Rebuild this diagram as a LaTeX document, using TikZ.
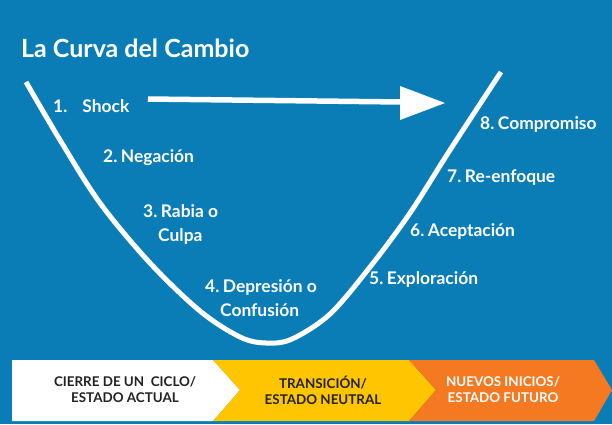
\documentclass[tikz,border=0pt]{standalone}
\usepackage{fontspec}
\setmainfont{Lato}
\definecolor{bgblue}{HTML}{0A7DB7}
\definecolor{byellow}{HTML}{FFC600}
\definecolor{borange}{HTML}{F47920}
\definecolor{darktext}{HTML}{222222}
\begin{document}
\begin{tikzpicture}[x=1pt,y=-1pt,
  lbl/.style={text=white,font=\fontsize{17.4}{20}\selectfont\bfseries,anchor=base west,inner sep=0pt},
  bandtxt/.style={font=\fontsize{13.4}{16}\selectfont\bfseries,align=center,inner sep=0pt}]
\fill[bgblue] (0,0) rectangle (612,424);
\useasboundingbox (0,0) rectangle (612,424);
\node[text=white,font=\fontsize{25}{30}\selectfont\bfseries,anchor=base west,inner sep=0pt] (title) at (21,57) {La Curva del Cambio};
% curve
\draw[white,line width=5pt,line cap=butt] plot[smooth,tension=0.55] coordinates {(26,82) (60,140) (100,203) (150,263) (200,311) (240,337) (266,343) (292,339) (330,314) (370,267) (410,213) (450,150) (501,72)};
% arrow
\coordinate (as) at (148,99);
\coordinate (ae) at (445,103);
\draw[white,line width=5.5pt] (as) -- (402,102);
\fill[white] (400,86) -- (ae) -- (400,120) -- cycle;
% labels
\node[lbl] (l1) at (53,112) {1.\hspace{15pt}Shock};
\node[lbl] (l2) at (103,162) {2.\hspace{0.2em}Negación};
\node[lbl] (l3) at (143,217) {3.\hspace{0.2em}Rabia o};
\node[lbl] (l3b) at (158,241) {Culpa};
\node[lbl] (l4) at (205,292) {4.\hspace{0.2em}Depresión o};
\node[lbl] (l4b) at (220,316) {Confusión};
\node[lbl] (l5) at (369,284) {5.\hspace{0.2em}Exploración};
\node[lbl] (l6) at (410,236) {6.\hspace{0.2em}Aceptación};
\node[lbl] (l7) at (447,182) {7.\hspace{0.2em}Re-enfoque};
\node[lbl] (l8) at (480,129) {8.\hspace{0.2em}Compromiso};
% band
\fill[white] (12,360) -- (213,360) -- (240,390) -- (213,421) -- (12,421) -- cycle;
\fill[byellow] (213,360) -- (409,360) -- (436,390) -- (409,421) -- (213,421) -- (240,390) -- cycle;
\fill[borange] (409,360) -- (594,360) -- (612,390) -- (594,421) -- (409,421) -- (436,390) -- cycle;
\node[bandtxt,text=darktext] (b1) at (125,390) {CIERRE DE UN\ \ CICLO/\\ESTADO ACTUAL};
\node[bandtxt,text=darktext] (b2) at (323,390) {TRANSICIÓN/\\ESTADO NEUTRAL};
\node[bandtxt,text=white] (b3) at (503,390) {NUEVOS INICIOS/\\ESTADO FUTURO};
\end{tikzpicture}
\end{document}
